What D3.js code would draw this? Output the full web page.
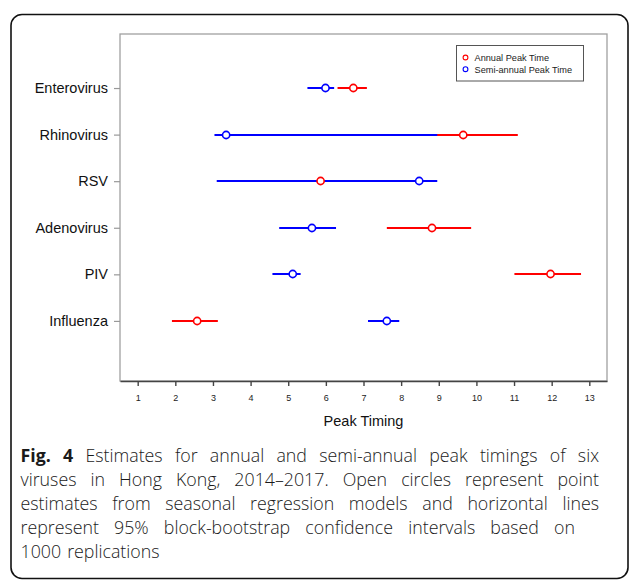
<!DOCTYPE html>
<html>
<head>
<meta charset="utf-8">
<script src="https://cdn.jsdelivr.net/npm/d3@7"></script>
<style>
  body { margin: 0; background: #fff; }
  svg { display: block; }
</style>
</head>
<body>
<svg id="chart"></svg>
<script>
// viruses listed top to bottom
const viruses = ["Enterovirus", "Rhinovirus", "RSV", "Adenovirus", "PIV", "Influenza"];

// annual peak time (red)
const annualPoint = [6.73, 9.65, 5.86, 8.82, 11.97, 2.58];
const annualLo    = [6.31, 8.90, 4.30, 7.62, 11.01, 1.91];
const annualHi    = [7.09, 11.10, 7.40, 9.86, 12.78, 3.13];

// semi-annual peak time (blue)
const semiPoint = [5.99, 3.35, 8.48, 5.63, 5.12, 7.62];
const semiLo    = [5.51, 3.04, 3.10, 4.76, 4.58, 7.12];
const semiHi    = [6.22, 8.96, 8.96, 6.27, 5.33, 7.95];

const xTicks = [1, 2, 3, 4, 5, 6, 7, 8, 9, 10, 11, 12, 13];
const legendLabels = ["Annual Peak Time", "Semi-annual Peak Time"];

const captionLines = [
  "Fig. 4 Estimates for annual and semi-annual peak timings of six",
  "viruses in Hong Kong, 2014\u20132017. Open circles represent point",
  "estimates from seasonal regression models and horizontal lines",
  "represent 95% block-bootstrap confidence intervals based on",
  "1000 replications"
];

const width = 630, height = 580;
const plot = { left: 120, right: 607, top: 34, bottom: 381 };
const sansFont = "Arial, 'Liberation Sans', Helvetica, sans-serif";

const svg = d3.select("#chart").attr("width", width).attr("height", height);

// outer rounded frame
svg.append("rect")
  .attr("x", 11).attr("y", 14.5)
  .attr("width", 617).attr("height", 564)
  .attr("rx", 11)
  .attr("fill", "none")
  .attr("stroke", "#111")
  .attr("stroke-width", 1.6);

const x = d3.scaleLinear().domain([0.53, 13.47]).range([plot.left, plot.right]);
// Enterovirus sits at 6, Influenza at 1
const y = d3.scaleLinear().domain([-0.29, 7.16]).range([plot.bottom, plot.top]);
const yPos = i => Math.round(y(viruses.length - i));

// plot box
svg.append("rect")
  .attr("x", plot.left).attr("y", plot.top)
  .attr("width", plot.right - plot.left).attr("height", plot.bottom - plot.top)
  .attr("fill", "none")
  .attr("stroke", "#a0a0a0")
  .attr("stroke-width", 1.3);

// x axis
const xAxis = svg.append("g")
  .attr("transform", `translate(0,${plot.bottom})`)
  .call(d3.axisBottom(x).tickValues(xTicks).tickSize(5).tickPadding(9).tickSizeOuter(0));
xAxis.select(".domain").attr("stroke", "#444").attr("stroke-width", 1.4);
xAxis.selectAll(".tick line").attr("stroke", "#444").attr("stroke-width", 1.4);
xAxis.selectAll("text")
  .style("font-family", sansFont)
  .style("font-size", "9px")
  .attr("fill", "#222");

svg.append("text")
  .attr("x", (plot.left + plot.right) / 2)
  .attr("y", 426)
  .attr("text-anchor", "middle")
  .style("font-family", sansFont)
  .style("font-size", "14.5px")
  .attr("fill", "#111")
  .text("Peak Timing");

// y axis
const yAxis = svg.append("g")
  .attr("transform", `translate(${plot.left},0)`)
  .call(d3.axisLeft(y)
    .tickValues(viruses.map((d, i) => viruses.length - i))
    .tickFormat(v => viruses[viruses.length - v])
    .tickSize(6).tickPadding(6).tickSizeOuter(0));
yAxis.select(".domain").remove();
yAxis.selectAll(".tick line").attr("stroke", "#999").attr("stroke-width", 1.2);
yAxis.selectAll("text")
  .style("font-family", sansFont)
  .style("font-size", "14.5px")
  .attr("fill", "#111");

const rows = viruses.map((name, i) => ({
  name, i,
  aLo: annualLo[i], aHi: annualHi[i], aPt: annualPoint[i],
  sLo: semiLo[i], sHi: semiHi[i], sPt: semiPoint[i]
}));

// confidence intervals: red first, blue on top
svg.selectAll(".ci-annual")
  .data(rows)
  .join("line")
  .attr("class", "ci-annual")
  .attr("x1", d => x(d.aLo)).attr("x2", d => x(d.aHi))
  .attr("y1", d => yPos(d.i)).attr("y2", d => yPos(d.i))
  .attr("stroke", "#ff0000")
  .attr("stroke-width", 2);

svg.selectAll(".ci-semi")
  .data(rows)
  .join("line")
  .attr("class", "ci-semi")
  .attr("x1", d => x(d.sLo)).attr("x2", d => x(d.sHi))
  .attr("y1", d => yPos(d.i)).attr("y2", d => yPos(d.i))
  .attr("stroke", "#0000ff")
  .attr("stroke-width", 2);

// point estimates
svg.selectAll(".pt-semi")
  .data(rows)
  .join("circle")
  .attr("class", "pt-semi")
  .attr("cx", d => x(d.sPt)).attr("cy", d => yPos(d.i))
  .attr("r", 3.6)
  .attr("fill", "#fff")
  .attr("stroke", "#0000ff")
  .attr("stroke-width", 1.6);

svg.selectAll(".pt-annual")
  .data(rows)
  .join("circle")
  .attr("class", "pt-annual")
  .attr("cx", d => x(d.aPt)).attr("cy", d => yPos(d.i))
  .attr("r", 3.6)
  .attr("fill", "#fff")
  .attr("stroke", "#ff0000")
  .attr("stroke-width", 1.6);

// legend
const legend = svg.append("g").attr("transform", "translate(456.5,45.5)");
legend.append("rect")
  .attr("width", 127).attr("height", 35.5)
  .attr("fill", "#fff")
  .attr("stroke", "#555")
  .attr("stroke-width", 1);
const legColors = ["#ff0000", "#0000ff"];
legendLabels.forEach((lab, k) => {
  legend.append("circle")
    .attr("cx", 9).attr("cy", 12 + k * 11.7)
    .attr("r", 2.4)
    .attr("fill", "none")
    .attr("stroke", legColors[k])
    .attr("stroke-width", 1.1);
  legend.append("text")
    .attr("x", 18).attr("y", 15.3 + k * 11.7)
    .style("font-family", sansFont)
    .style("font-size", "9.2px")
    .attr("fill", "#222")
    .text(lab);
});

// caption, justified line by line
const capLeft = 20.5, capRight = 599, capTop = 461.5, lineGap = 24;
const capFont = "'Open Sans', 'Noto Sans', sans-serif";
const capSize = 17.8;
const justifyTo = [capRight, capRight, capRight, 575, null];

captionLines.forEach((line, li) => {
  const words = line.split(" ");
  const g = svg.append("g");
  const nodes = words.map((w, wi) => g.append("text")
    .attr("y", capTop + li * lineGap)
    .style("font-family", capFont)
    .style("font-size", capSize + "px")
    .style("font-weight", li === 0 && wi < 2 ? 700 : 300)
    .attr("fill", "#1a1a1a")
    .text(w));
  const widths = nodes.map(n => n.node().getComputedTextLength());
  const total = d3.sum(widths);
  let gap = capSize * 0.26 * 1.3;
  if (justifyTo[li] !== null && words.length > 1) {
    gap = (justifyTo[li] - capLeft - total) / (words.length - 1);
  }
  let cx = capLeft;
  nodes.forEach((n, k) => {
    n.attr("x", cx);
    cx += widths[k] + gap;
  });
});
</script>
</body>
</html>
